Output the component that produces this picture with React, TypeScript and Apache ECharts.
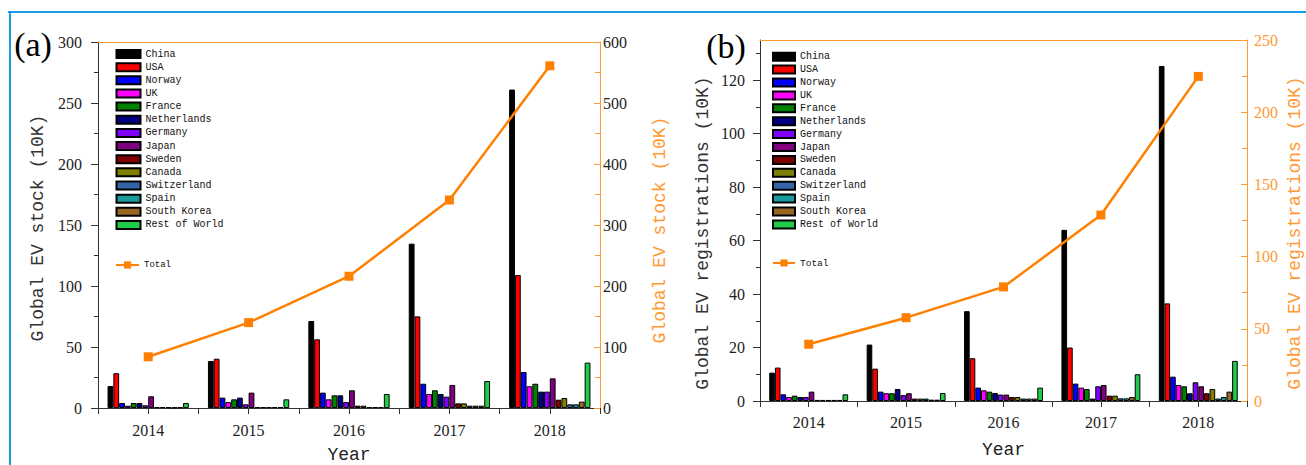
import React, { useEffect, useRef } from "react";
import * as echarts from "echarts";

// ---------- data ----------
const years = ["2014", "2015", "2016", "2017", "2018"];
const countries = [
  "China", "USA", "Norway", "UK", "France", "Netherlands", "Germany",
  "Japan", "Sweden", "Canada", "Switzerland", "Spain", "South Korea", "Rest of World",
];

// Global EV stock (10K), one array per year, values in `countries` order
const stock2014 = [18, 28.5, 4.1, 1.9, 4.1, 4.1, 2.2, 9.6, 0.8, 0.8, 0.6, 0.4, 0.6, 4.1];
const stock2015 = [38.5, 40.4, 8.5, 4.9, 7.1, 8.5, 3, 12.6, 0.8, 0.8, 0.8, 0.8, 0.8, 7.1];
const stock2016 = [71.3, 56.3, 12.6, 7.1, 10.4, 10.4, 4.9, 14.5, 1.9, 1.9, 0.8, 0.8, 0.8, 11.5];
const stock2017 = [134.7, 75.1, 19.9, 11.5, 14.5, 11.5, 9.3, 18.9, 3.8, 3.8, 1.9, 1.9, 1.9, 22.1];
const stock2018 = [261, 109, 29.5, 17.8, 19.9, 13.4, 13.4, 24.3, 6.8, 8.2, 3, 3, 5.2, 37.2];
const stockTotal = [84, 140, 216, 341, 561];

// Global EV registrations (10K)
const reg2014 = [10.6, 12.5, 2.5, 1.5, 2, 1.5, 1.5, 3.5, 0.4, 0.4, 0.4, 0.4, 0.4, 2.5];
const reg2015 = [21.1, 12.1, 3.5, 2.9, 2.9, 4.5, 2.2, 2.9, 0.9, 0.9, 0.9, 0.5, 0.5, 3];
const reg2016 = [33.6, 16, 5, 4, 3.5, 3, 2.4, 2.4, 1.5, 1.5, 0.9, 0.9, 0.9, 5];
const reg2017 = [64, 20, 6.5, 5, 4.5, 0.9, 5.5, 6, 2, 2, 1, 1, 1.5, 10];
const reg2018 = [125.3, 36.5, 9.1, 6, 5.5, 2.9, 7, 5.5, 2.9, 4.5, 0.9, 1.5, 3.5, 15];
const regTotal = [39.3, 57.7, 79, 128.8, 224.8];

const leftTicksB = [0, 20, 40, 60, 80, 100, 120];

// ---------- styles ----------
const barColors = [
  "#000000", "#FF0000", "#0000FF", "#FF00FF", "#008000", "#000080", "#8000FF",
  "#800080", "#800000", "#808000", "#3366A8", "#1A9A9A", "#996622", "#1ECC4A",
];
const ORANGE = "#FF9933";
const LINE_ORANGE = "#FF8000";
const AXIS = "#333333";
const TEXT = "#222222";
const SERIF = "Liberation Serif";
const MONO = "Liberation Mono";

const stockByYear = [stock2014, stock2015, stock2016, stock2017, stock2018];
const regByYear = [reg2014, reg2015, reg2016, reg2017, reg2018];

function buildOption() {
  const tickLabel = { fontFamily: SERIF, fontSize: 16, color: TEXT };

  const makeX = (grid: number, margin: number, nameGap: number) => [
    {
      gridIndex: grid, type: "category", data: years, position: "bottom", offset: 0,
      axisLine: { show: true, lineStyle: { color: AXIS, width: 1 } },
      axisTick: { show: true, length: 6, lineStyle: { color: AXIS } },
      axisLabel: { margin, ...tickLabel },
      splitLine: { show: false },
      name: "Year", nameLocation: "middle", nameGap,
      nameTextStyle: { fontFamily: MONO, fontSize: 18, lineHeight: 18, color: TEXT },
    },
    {
      gridIndex: grid, type: "category", data: years, position: "bottom", offset: 0,
      axisLine: { show: false },
      axisTick: { show: true, alignWithLabel: true, length: 6, lineStyle: { color: AXIS } },
      axisLabel: { show: false },
      splitLine: { show: false },
    },
    {
      gridIndex: grid, type: "category", data: years, position: "top", offset: 0,
      axisLine: { show: true, lineStyle: { color: ORANGE, width: 1 } },
      axisTick: { show: false },
      axisLabel: { show: false },
      splitLine: { show: false },
    },
  ];

  const xAxis = [...makeX(0, 14, 38), ...makeX(1, 13, 40)];

  const yAxis = [
    {
      gridIndex: 0, type: "value", min: 0, max: 300, interval: 50, position: "left",
      axisLine: { show: true, lineStyle: { color: AXIS } },
      axisTick: { show: true, length: 7, lineStyle: { color: AXIS } },
      minorTick: { show: true, splitNumber: 2, length: 4, lineStyle: { color: AXIS } },
      axisLabel: { margin: 16, ...tickLabel },
      splitLine: { show: false },
    },
    {
      gridIndex: 0, type: "value", min: 0, max: 600, interval: 100, position: "right",
      axisLine: { show: true, lineStyle: { color: ORANGE } },
      axisTick: { show: true, inside: true, length: 6, lineStyle: { color: ORANGE } },
      minorTick: { show: true, splitNumber: 2, length: 5, lineStyle: { color: ORANGE } },
      axisLabel: { margin: 3, ...tickLabel },
      splitLine: { show: false },
    },
    {
      gridIndex: 1, type: "value", min: 0, max: 135, interval: 20, position: "left",
      axisLine: { show: true, lineStyle: { color: AXIS } },
      axisTick: { show: true, length: 7, lineStyle: { color: AXIS }, customValues: leftTicksB },
      minorTick: { show: true, splitNumber: 2, length: 4, lineStyle: { color: AXIS } },
      axisLabel: { margin: 15, customValues: leftTicksB, ...tickLabel },
      splitLine: { show: false },
    },
    {
      gridIndex: 1, type: "value", min: 0, max: 250, interval: 50, position: "right",
      axisLine: { show: true, lineStyle: { color: ORANGE } },
      axisTick: { show: true, inside: true, length: 6, lineStyle: { color: ORANGE } },
      minorTick: { show: true, splitNumber: 2, length: 5, lineStyle: { color: ORANGE } },
      axisLabel: { margin: 7, ...tickLabel, color: ORANGE },
      splitLine: { show: false },
    },
  ];

  const series: any[] = [];
  countries.forEach((c, i) => {
    series.push({
      type: "bar", name: c, xAxisIndex: 0, yAxisIndex: 0,
      data: stockByYear.map((arr) => arr[i]),
      itemStyle: { color: barColors[i], borderColor: "#000", borderWidth: 1 },
      barGap: "0%", barCategoryGap: "19%",
    });
  });
  countries.forEach((c, i) => {
    series.push({
      type: "bar", name: c, xAxisIndex: 3, yAxisIndex: 2,
      data: regByYear.map((arr) => arr[i]),
      itemStyle: { color: barColors[i], borderColor: "#000", borderWidth: 1 },
      barGap: "0%", barCategoryGap: "19%",
    });
  });
  const lineCommon = {
    type: "line", name: "Total", symbol: "rect", symbolSize: 9, z: 5,
    lineStyle: { color: LINE_ORANGE, width: 2.5 },
    itemStyle: { color: LINE_ORANGE },
  };
  series.push({ ...lineCommon, xAxisIndex: 0, yAxisIndex: 1, data: stockTotal });
  series.push({ ...lineCommon, xAxisIndex: 3, yAxisIndex: 3, data: regTotal });

  const legendText = { fontFamily: MONO, fontSize: 10, lineHeight: 12, color: "#111" };
  const legend = [
    {
      data: countries, orient: "vertical", left: 115.5, top: 48, padding: 0,
      itemWidth: 24, itemHeight: 8, itemGap: 1.15, icon: "rect",
      selectedMode: false, textStyle: legendText,
    },
    {
      data: ["Total"], orient: "vertical", left: 115, top: 259, padding: 0,
      itemWidth: 23, itemHeight: 9, selectedMode: false,
      textStyle: { ...legendText, fontSize: 9 },
    },
    {
      data: countries, orient: "vertical", left: 772, top: 50.7, padding: 0,
      itemWidth: 22, itemHeight: 8, itemGap: 0.9, icon: "rect",
      selectedMode: false, textStyle: legendText,
    },
    {
      data: ["Total"], orient: "vertical", left: 772, top: 257, padding: 0,
      itemWidth: 22, itemHeight: 9, selectedMode: false,
      textStyle: { ...legendText, fontSize: 9.5 },
    },
  ];

  const vTitle = (text: string, x: number, y: number, fill: string) => ({
    type: "text", x, y, rotation: Math.PI / 2, silent: true,
    style: { text, fill, font: `18px "${MONO}"`, align: "center", verticalAlign: "middle" },
  });

  const graphic = [
    { type: "line", silent: true, shape: { x1: 8, y1: 12, x2: 1306, y2: 12 }, style: { stroke: "#1A9BE6", lineWidth: 2 } },
    { type: "line", silent: true, shape: { x1: 10, y1: 12, x2: 10, y2: 465 }, style: { stroke: "#1A9BE6", lineWidth: 2 } },
    { type: "text", x: 33, y: 44, silent: true, style: { text: "(a)", fill: "#000", font: `34px "${SERIF}"`, align: "center", verticalAlign: "middle" } },
    { type: "text", x: 726, y: 46, silent: true, style: { text: "(b)", fill: "#000", font: `34px "${SERIF}"`, align: "center", verticalAlign: "middle" } },
    vTitle("Global EV stock (10K)", 38, 228, AXIS),
    vTitle("Global EV stock (10K)", 660, 230, ORANGE),
    vTitle("Global EV registrations (10K)", 703, 233, AXIS),
    vTitle("Global EV registrations (10K)", 1295, 233, ORANGE),
  ];

  return {
    animation: false,
    backgroundColor: "#ffffff",
    grid: [
      { left: 98, top: 42, width: 502, height: 366, outerBoundsMode: "none", containLabel: false },
      { left: 760, top: 40, width: 487, height: 361, outerBoundsMode: "none", containLabel: false },
    ],
    xAxis, yAxis, legend, series, graphic,
  };
}

export default function App() {
  const ref = useRef<HTMLDivElement>(null);
  useEffect(() => {
    if (!ref.current) return;
    const chart = echarts.init(ref.current, undefined, { renderer: "svg" });
    chart.setOption(buildOption() as any);
    return () => chart.dispose();
  }, []);
  return (
    <div
      ref={ref}
      style={{ position: "absolute", left: 0, top: 0, width: 1306, height: 465, background: "#fff" }}
    />
  );
}
